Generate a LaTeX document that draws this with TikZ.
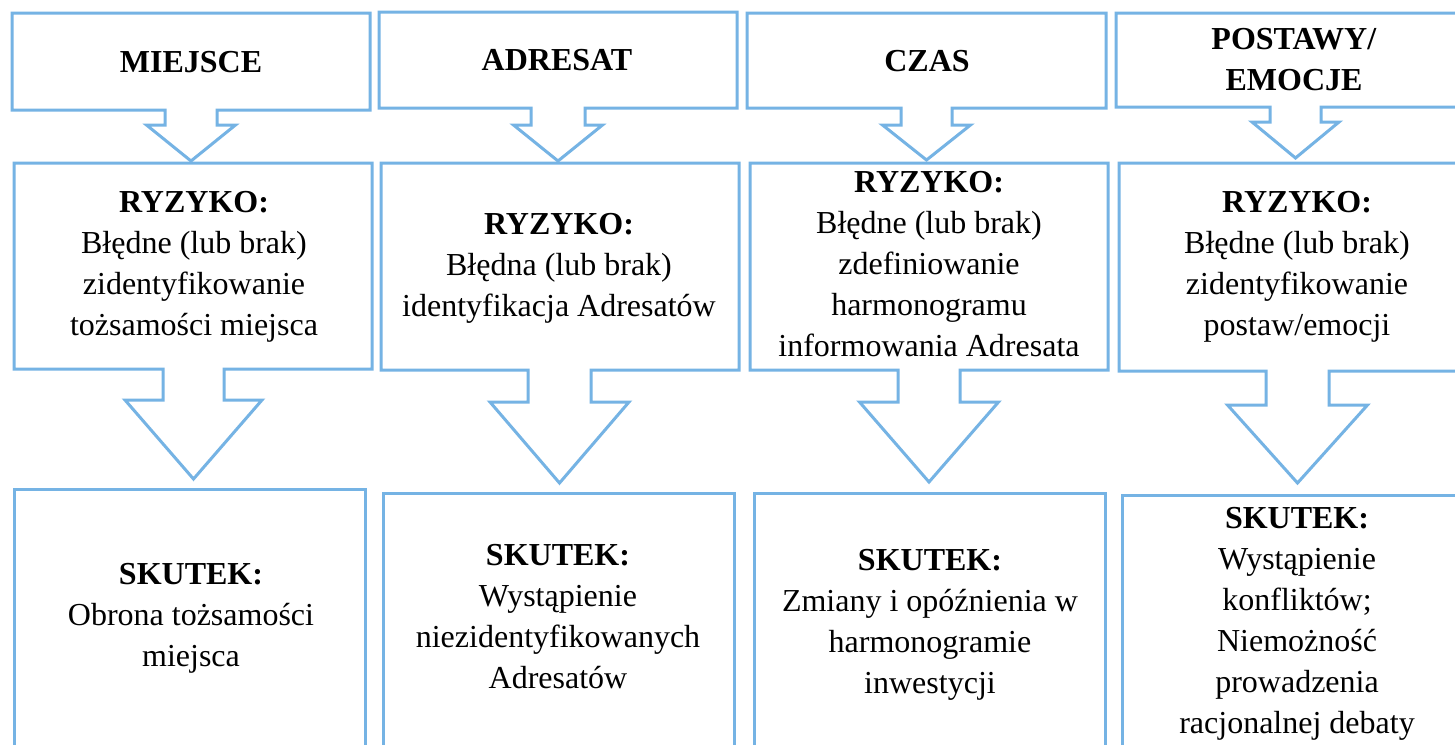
\documentclass[tikz,border=0pt]{standalone}
\usepackage{fontspec}
\setmainfont{Liberation Serif}
\definecolor{boxblue}{RGB}{117,179,228}
% #1 x1, #2 x2, #3 y1, #4 y2, #5 stem left, #6 stem right, #7 stem bottom, #8 half head width, #9 tip y
\newcommand\calloutpath[9]{%
  \draw[boxline] (#1,#3) -- (#2,#3) -- (#2,#4) -- (#6,#4) -- (#6,#7)
    -- ({(#5+#6)/2+#8},#7) -- ({(#5+#6)/2},#9) -- ({(#5+#6)/2-#8},#7)
    -- (#5,#7) -- (#5,#4) -- (#1,#4) -- cycle;}
\begin{document}
\begin{tikzpicture}[x=1pt,y=-1pt,
  boxline/.style={draw=boxblue,line width=3pt,line join=miter},
  txt/.style={inner sep=0pt,outer sep=0pt,align=center,anchor=north,
    font=\fontsize{32}{41}\selectfont}]
\clip (0,0) rectangle (1455,744);
\fill[white] (0,0) rectangle (1455,744);
% column 1
\calloutpath{12}{370}{13}{110}{165}{217}{125}{44.5}{161}
\calloutpath{14}{372}{163}{369}{163}{224}{400}{68.5}{479}
\draw[boxline] (14,800) -- (14,489) -- (365,489) -- (365,800);
% column 2
\calloutpath{379}{737}{12}{108}{531}{585}{125}{44.5}{161}
\calloutpath{381}{739}{163}{370}{528}{591}{402}{69.5}{483}
\draw[boxline] (383,800) -- (383,493) -- (734,493) -- (734,800);
% column 3
\calloutpath{747}{1106}{13}{108}{901}{952}{125}{44}{160}
\calloutpath{750}{1108}{163}{370}{898}{960}{402}{69.5}{482}
\draw[boxline] (754,800) -- (754,493) -- (1105,493) -- (1105,800);
% column 4
\calloutpath{1116}{1480}{13}{107}{1270}{1321}{122}{43.5}{158}
\calloutpath{1119}{1480}{163}{371}{1266}{1329}{405}{70}{483}
\draw[boxline] (1122,800) -- (1122,495) -- (1480,495);
% texts
\node[txt] (t1) at (191,51.5) {\textbf{MIEJSCE}};
\node[txt] (t2) at (557,49.5) {\textbf{ADRESAT}};
\node[txt] (t3) at (927,50.5) {\textbf{CZAS}};
\node[txt] (t4) at (1294,28) {\textbf{POSTAWY/}\\\textbf{EMOCJE}};
\node[txt] (m1) at (194,191.5) {\textbf{RYZYKO:}\\Błędne (lub brak)\\zidentyfikowanie\\tożsamości miejsca};
\node[txt] (m2) at (559,213.5) {\textbf{RYZYKO:}\\Błędna (lub brak)\\identyfikacja Adresatów};
\node[txt] (m3) at (929,171.5) {\textbf{RYZYKO:}\\Błędne (lub brak)\\zdefiniowanie\\harmonogramu\\informowania Adresata};
\node[txt] (m4) at (1297,191.5) {\textbf{RYZYKO:}\\Błędne (lub brak)\\zidentyfikowanie\\postaw/emocji};
\node[txt] (b1) at (191,563.5) {\textbf{SKUTEK:}\\Obrona tożsamości\\miejsca};
\node[txt] (b2) at (558,544.5) {\textbf{SKUTEK:}\\Wystąpienie\\niezidentyfikowanych\\Adresatów};
\node[txt] (b3) at (930,549.5) {\textbf{SKUTEK:}\\Zmiany i opóźnienia w\\harmonogramie\\inwestycji};
\node[txt] (b4) at (1297,507.5) {\textbf{SKUTEK:}\\Wystąpienie\\konfliktów;\\Niemożność\\prowadzenia\\racjonalnej debaty};
\end{tikzpicture}
\end{document}
